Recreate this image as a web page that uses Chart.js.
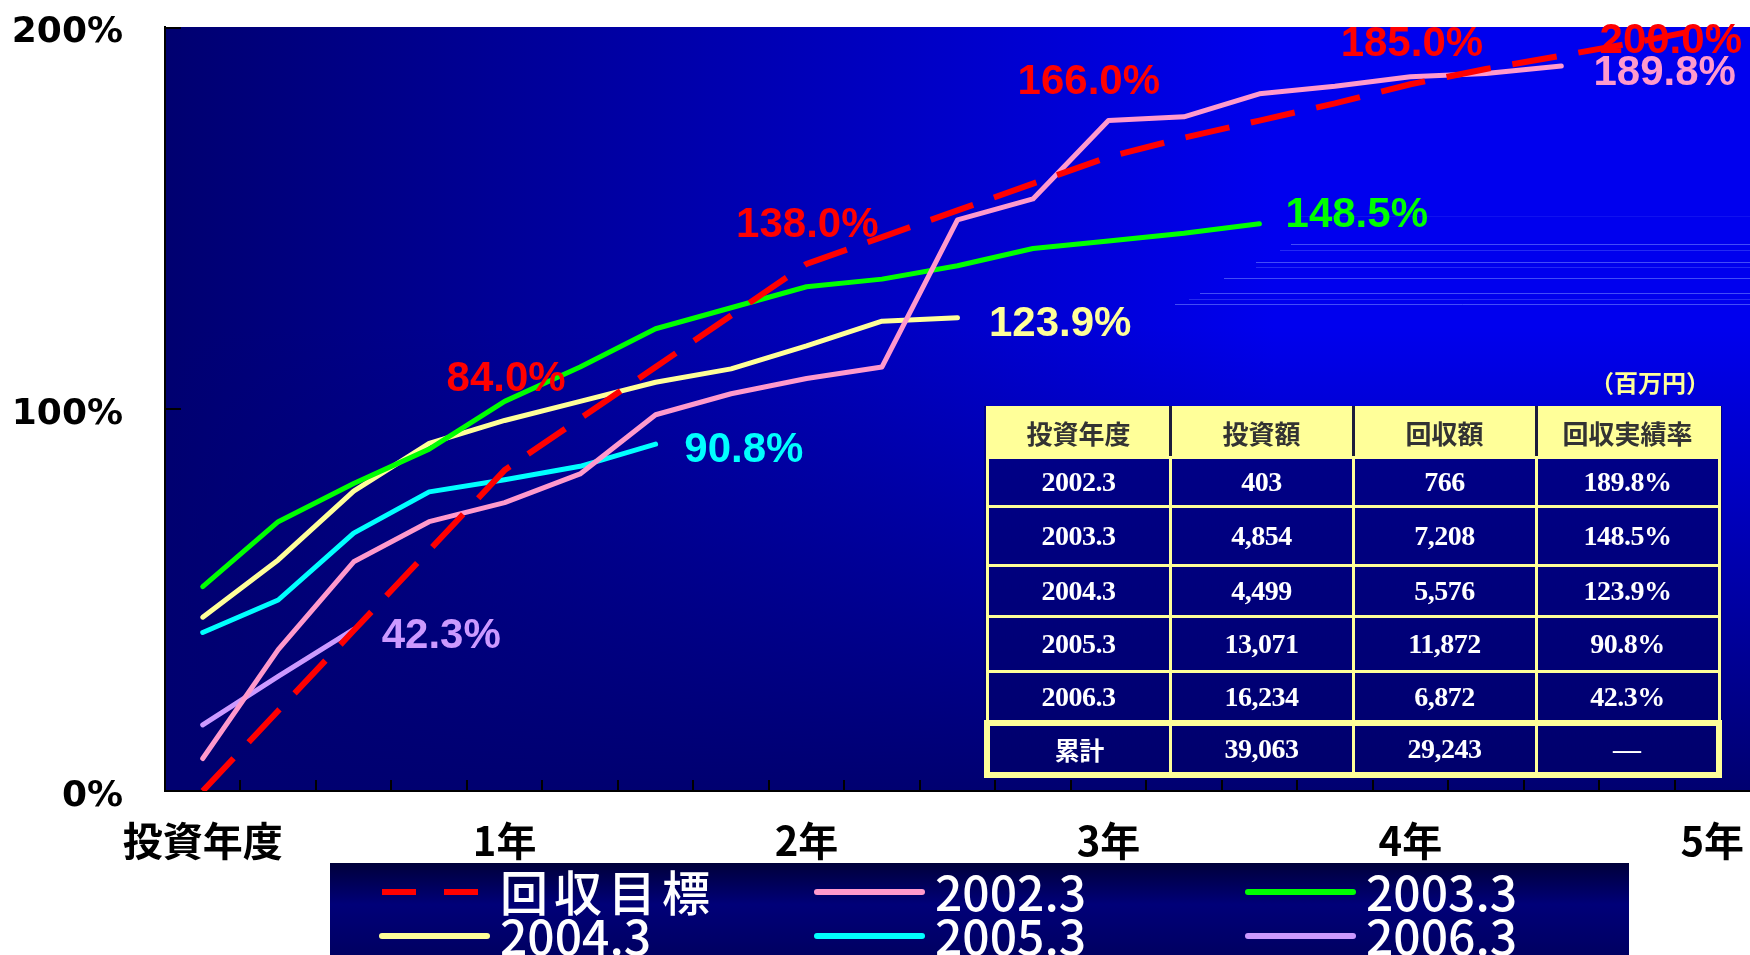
<!DOCTYPE html>
<html lang="ja">
<head>
<meta charset="utf-8">
<title>回収実績率</title>
<script src="https://cdn.jsdelivr.net/npm/chart.js@4.4.1/dist/chart.umd.min.js"></script>
<style>
  html, body { margin: 0; padding: 0; background: #fff; }
  #wrap { position: relative; width: 1750px; height: 955px; overflow: hidden; }
  #chart { position: absolute; left: 0; top: 0; }
  #unit { position: absolute; left: 1570px; top: 367px; width: 160px; text-align: center;
          color: #ffff99; font: bold 24px "Noto Sans CJK JP"; line-height: 30px; }
  #tbl { position: absolute; left: 984px; top: 406px; width: 738px; border-collapse: collapse;
         table-layout: fixed; background: linear-gradient(#00008a, #00006c); }
  #tbl th, #tbl td { border: 3px solid #ffff99; padding: 0; text-align: center; }
  #tbl th { background: #ffff99; color: #333; font: bold 26px "Noto Sans CJK JP"; height: 47px;
            border-right-color: #1c1c3c; }
  #tbl th:last-child { border-right-color: #ffff99; }
  #tbl td { color: #fff; font: bold 28px "Liberation Serif"; letter-spacing: -0.5px; }
  #tbl tr:nth-child(2) td { height: 46px; }
  #tbl tr:nth-child(3) td { height: 56px; }
  #tbl tr:nth-child(4) td { height: 48px; }
  #tbl tr:nth-child(5) td { height: 52px; }
  #tbl tr:nth-child(6) td { height: 47px; }
  #tbl tr.total td { height: 46px; border-top-width: 6px; border-bottom-width: 6px; }
  #tbl tr.total td:first-child { border-left-width: 6px; font: bold 25px "Noto Sans CJK JP"; }
  #tbl tr.total td:last-child { border-right-width: 6px; }
</style>
</head>
<body>
<div id="wrap">
  <canvas id="chart" width="1750" height="955"></canvas>
  <div id="unit">（百万円）</div>
  <table id="tbl"></table>
</div>
<script>
// 横軸（四半期ごと）
const xLabels = ['投資年度', '', '', '', '1年', '', '', '', '2年', '', '', '', '3年', '', '', '', '4年', '', '', '', '5年'];
const yTicks = [0, 100, 200];
const yTickLabels = ['0%', '100%', '200%'];

// 系列
const seriesNames = ['回収目標', '2002.3', '2003.3', '2004.3', '2005.3', '2006.3'];
const target = [0, 21, 42, 63, 84, 97.5, 111, 124.5, 138, 145, 152, 159, 166, 171, 175.5, 180, 185, 189, 192.5, 196, 200];
const s2002 = [8.5, 37, 60, 70.5, 75.5, 83, 98.5, 104, 108, 111, 149.5, 155, 175.5, 176.5, 182.5, 184.5, 187, 187.8, 189.8];
const s2003 = [53.5, 70.5, 80.5, 89.5, 102, 111, 121, 126.5, 132, 134, 137.5, 142, 144, 146, 148.5];
const s2004 = [45.5, 60.5, 78.5, 91, 97, 102, 107, 110.5, 116.5, 123, 123.9];
const s2005 = [41.5, 50, 67.5, 78.3, 81.5, 85, 90.8];
const s2006 = [17.3, 30, 42.3];
const seriesColors = ['#ff0000', '#ff99cc', '#00ff00', '#ffff99', '#00ffff', '#cc99ff'];
const seriesWidths = [6, 5, 5, 5, 5, 5];

// 表（百万円）
const tblHead = ['投資年度', '投資額', '回収額', '回収実績率'];
const tblYear = ['2002.3', '2003.3', '2004.3', '2005.3', '2006.3', '累計'];
const tblInvest = ['403', '4,854', '4,499', '13,071', '16,234', '39,063'];
const tblReturn = ['766', '7,208', '5,576', '11,872', '6,872', '29,243'];
const tblRate = ['189.8%', '148.5%', '123.9%', '90.8%', '42.3%', '—'];

// 数値ラベルの置き場所（系列, 点, [横位置, 縦%]）
const labelSpots = [
  { ds: 0, i: 4, at: [4.02, 108.7] },
  { ds: 0, i: 8, at: [8.01, 149.1] },
  { ds: 0, i: 12, at: [11.74, 186.6] },
  { ds: 0, i: 16, at: [16.02, 196.6] },
  { ds: 0, i: 20, at: [19.45, 197.4] },
  { ds: 1, i: 18, at: [19.37, 189] },
  { ds: 2, i: 14, at: [15.29, 151.7] },
  { ds: 3, i: 10, at: [11.36, 123.1] },
  { ds: 4, i: 6, at: [7.17, 90.3] },
  { ds: 5, i: 2, at: [3.16, 41.5] }
];

const seriesData = [target, s2002, s2003, s2004, s2005, s2006];

// 表を作る
function crearTabla() {
  const t = document.getElementById('tbl');
  let html = '<tr>' + tblHead.map(h => '<th>' + h + '</th>').join('') + '</tr>';
  tblYear.forEach((y, k) => {
    const cls = k === tblYear.length - 1 ? ' class="total"' : '';
    html += '<tr' + cls + '><td>' + y + '</td><td>' + tblInvest[k] + '</td><td>' +
      tblReturn[k] + '</td><td>' + tblRate[k] + '</td></tr>';
  });
  t.innerHTML = html;
}
crearTabla();

// 背景のグラデーション
const fondo = {
  id: 'fondo',
  beforeDraw(chart) {
    const { ctx, chartArea: a } = chart;
    ctx.save();
    const gh = ctx.createLinearGradient(a.left, 0, a.left + (a.right - a.left) * 0.7, 0);
    gh.addColorStop(0, '#000070');
    gh.addColorStop(1, '#0000ee');
    ctx.fillStyle = gh;
    ctx.fillRect(a.left, a.top, a.right - a.left, a.bottom - a.top);
    const gv = ctx.createLinearGradient(0, a.top + 300, 0, a.bottom);
    gv.addColorStop(0, 'rgba(0,0,112,0)');
    gv.addColorStop(1, 'rgba(0,0,112,1)');
    ctx.fillStyle = gv;
    ctx.fillRect(a.left, a.top, a.right - a.left, a.bottom - a.top);
    // うすい線
    ctx.lineWidth = 1;
    [[1300, 216.5, 0.12], [1291, 244.5, 0.55], [1280, 250.5, 0.3], [1256, 262.5, 0.55], [1256, 267.5, 0.3],
     [1224, 278.5, 0.55], [1200, 293.5, 0.55], [1189, 299.5, 0.3], [1175, 304.5, 0.55]].forEach(([x0, yy, al]) => {
      ctx.strokeStyle = 'rgba(120,140,255,' + al + ')';
      ctx.beginPath(); ctx.moveTo(x0, yy); ctx.lineTo(a.right, yy); ctx.stroke();
    });
    ctx.restore();
  },
  beforeDatasetsDraw(chart) {
    const { ctx, chartArea: a, scales: { x, y } } = chart;
    ctx.save();
    ctx.strokeStyle = '#000';
    ctx.lineWidth = 2;
    const paso = x.getPixelForValue(1) - x.getPixelForValue(0);
    for (let i = 0; i < xLabels.length - 1; i++) {
      const px = Math.round(x.getPixelForValue(i) + paso / 2);
      ctx.beginPath(); ctx.moveTo(px, a.bottom); ctx.lineTo(px, a.bottom - 11); ctx.stroke();
    }
    yTicks.forEach(v => {
      const py = Math.round(y.getPixelForValue(v)) + (v === 200 ? 1 : 0);
      ctx.beginPath(); ctx.moveTo(a.left, py); ctx.lineTo(a.left + 16, py); ctx.stroke();
    });
    ctx.restore();
  }
};

// 数値ラベル
const etiquetas = {
  id: 'etiquetas',
  afterDatasetsDraw(chart) {
    const { ctx, scales: { x, y } } = chart;
    ctx.save();
    ctx.font = 'bold 42px "Liberation Sans"';
    ctx.textAlign = 'center';
    ctx.textBaseline = 'middle';
    labelSpots.forEach(s => {
      const v = seriesData[s.ds][s.i];
      ctx.fillStyle = seriesColors[s.ds];
      ctx.fillText(v.toFixed(1) + '%', x.getPixelForValue(s.at[0]), y.getPixelForValue(s.at[1]) + 4);
    });
    ctx.restore();
  }
};

// 凡例
const leyenda = {
  id: 'leyenda',
  afterDraw(chart) {
    const ctx = chart.ctx;
    const caja = { left: 330, top: 863, right: 1629, bottom: 955 };
    const cols = [382, 817, 1248];
    const rows = [892, 936];
    ctx.save();
    const g = ctx.createLinearGradient(0, caja.top, 0, caja.bottom);
    g.addColorStop(0, '#00003a');
    g.addColorStop(0.45, '#000078');
    g.addColorStop(1, '#000062');
    ctx.fillStyle = g;
    ctx.fillRect(caja.left, caja.top, caja.right - caja.left, caja.bottom - caja.top);
    chart.data.datasets.forEach((ds, k) => {
      const cx = cols[k % 3];
      const cy = rows[Math.floor(k / 3)];
      ctx.strokeStyle = ds.borderColor;
      ctx.lineWidth = 6;
      ctx.lineCap = k === 0 ? 'butt' : 'round';
      ctx.setLineDash(k === 0 ? [34, 28] : []);
      ctx.beginPath(); ctx.moveTo(cx, cy); ctx.lineTo(cx + 105, cy); ctx.stroke();
      ctx.setLineDash([]);
      ctx.fillStyle = '#fff';
      ctx.font = '500 48px "Noto Sans CJK JP"';
      ctx.letterSpacing = /^[\x00-\x7f]+$/.test(ds.label) ? '0px' : '6px';
      ctx.textAlign = 'left';
      ctx.textBaseline = 'middle';
      ctx.fillText(ds.label, cx + 118, cy + 1);
      ctx.letterSpacing = '0px';
    });
    ctx.restore();
  }
};

const chart = new Chart(document.getElementById('chart'), {
  type: 'line',
  data: {
    labels: xLabels,
    datasets: seriesNames.map((name, k) => ({
      label: name,
      data: seriesData[k],
      borderColor: seriesColors[k],
      backgroundColor: seriesColors[k],
      borderWidth: seriesWidths[k],
      borderDash: k === 0 ? [45, 22] : [],
      borderCapStyle: k === 0 ? 'butt' : 'round',
      borderJoinStyle: k === 0 ? 'miter' : 'round',
      pointRadius: 0,
      tension: 0,
      fill: false
    }))
  },
  options: {
    responsive: false,
    animation: false,
    devicePixelRatio: 1,
    layout: { padding: { top: 27, left: 0, right: 0, bottom: 0 } },
    plugins: { legend: { display: false }, tooltip: { enabled: false } },
    scales: {
      x: {
        offset: true,
        grid: { display: false, drawTicks: false },
        border: { display: true, color: '#000', width: 2 },
        ticks: {
          autoSkip: false, maxRotation: 0, minRotation: 0, padding: 26, color: '#000',
          font: { family: 'Noto Sans CJK JP', size: 40, weight: 'bold' }
        },
        afterFit: s => { s.height = 164; s.paddingLeft = 0; s.paddingRight = 0; }
      },
      y: {
        min: 0, max: 200,
        afterBuildTicks: s => { s.ticks = yTicks.map(v => ({ value: v })); },
        grid: { display: false, drawTicks: false },
        border: { display: true, color: '#000', width: 2 },
        ticks: {
          padding: 42, color: '#000', labelOffset: 6,
          font: { family: 'DejaVu Sans', size: 36, weight: 'bold' },
          callback: v => yTickLabels[yTicks.indexOf(v)]
        },
        afterFit: s => { s.width = 165; s.paddingTop = 0; s.paddingBottom = 0; }
      }
    }
  },
  plugins: [fondo, etiquetas, leyenda]
});
</script>
</body>
</html>
